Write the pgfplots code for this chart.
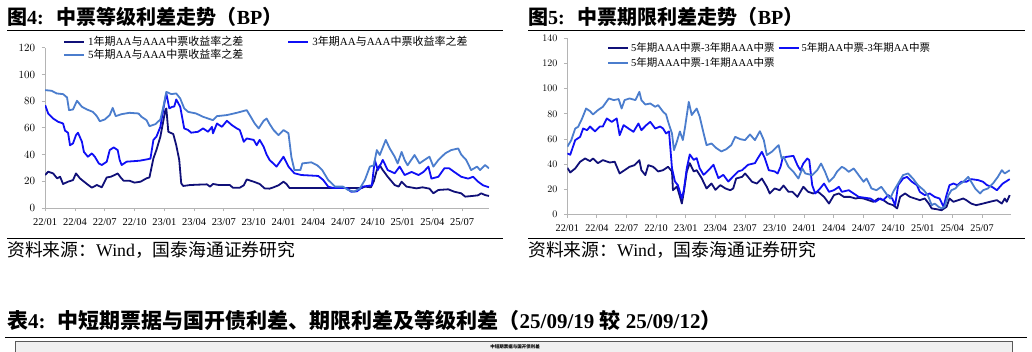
\documentclass[border=0pt]{standalone}
\usepackage{fontspec}
\setmainfont{Liberation Serif}
\newfontfamily\cjk{Noto Sans CJK SC}
\usepackage{pgfplots}
\pgfplotsset{compat=1.18}
\definecolor{navyline}{RGB}{16,16,120}
\definecolor{blueline}{RGB}{15,15,245}
\definecolor{lightline}{RGB}{75,125,205}
\definecolor{axisgray}{RGB}{180,180,180}
\pgfplotsset{
  spread/.style={
    scale only axis, anchor=south west,
    axis x line*=bottom, axis y line*=left,
    axis line style={draw=axisgray, line width=0.9pt},
    tick style={draw=axisgray, line width=0.9pt},
    tick align=outside, major tick length=3.5pt,
    xmin=0, ymin=0,
    xtick={0,3,...,42},
    xticklabels={22/01,22/04,22/07,22/10,23/01,23/04,23/07,23/10,24/01,24/04,24/07,24/10,25/01,25/04,25/07},
    xticklabel style={yshift=-3pt},
    yticklabel style={xshift=-3pt},
    legend columns=2,
    legend cell align=left,
    legend image code/.code={\draw[##1, line width=2pt] (0pt,0pt) -- (20pt,0pt);},
    every axis plot/.append style={line width=1.8pt, line join=round, mark=none},
  }
}
\begin{document}
\begin{tikzpicture}[x=1pt,y=1pt]
\path[use as bounding box] (0,0) rectangle (1032,352);
% titles
\node[anchor=base west, inner sep=0pt, font=\fontsize{20}{20}\selectfont\bfseries] at (7,327.4) {{\cjk 图}4:\hspace{13pt}{\cjk 中票等级利差走势（}BP{\cjk ）}};
\node[anchor=base west, inner sep=0pt, font=\fontsize{20}{20}\selectfont\bfseries] at (528,327.4) {{\cjk 图}5:\hspace{13pt}{\cjk 中票期限利差走势（}BP{\cjk ）}};
\draw[line width=1pt] (7,321.7) -- (503,321.7);
\draw[line width=1pt] (528,321.7) -- (1025,321.7);
\draw[line width=1pt] (7,113.7) -- (503,113.7);
\draw[line width=1pt] (528,113.7) -- (1025,113.7);
\node[anchor=base west, inner sep=0pt, font=\fontsize{17.8}{17.8}\selectfont] at (7,95) {{\cjk 资料来源：}Wind{\cjk ，国泰海通证券研究}};
\node[anchor=base west, inner sep=0pt, font=\fontsize{17.8}{17.8}\selectfont] at (528,95) {{\cjk 资料来源：}Wind{\cjk ，国泰海通证券研究}};
\node[anchor=base west, inner sep=0pt, font=\fontsize{21}{21}\selectfont\bfseries] at (7,23.5) {{\cjk 表}4:\hspace{12pt}{\cjk 中短期票据与国开债利差、期限利差及等级利差（}25/09/19 {\cjk 较} 25/09/12{\cjk ）}};
\draw[line width=1.5pt] (5,14.5) -- (1027,14.5);
\draw[fill=black!6, draw=black!65, line width=0.8pt] (15,-5) rectangle (1012,10.5);
\node[font=\cjk\fontsize{4.5}{4.5}\selectfont\bfseries, inner sep=0pt] at (515,5) {中短期票据与国开债利差};

% left chart
\begin{axis}[spread, at={(45.2pt,144pt)}, width=443.8pt, height=160.2pt,
  xmax=44.7, ymax=120, ytick={0,20,...,120},
  tick label style={font=\fontsize{10.5}{12}\selectfont},
  legend style={at={(0.0401,1.074)}, anchor=north west, draw=none, fill=none, inner sep=0pt,
    font=\fontsize{11}{13}\selectfont, row sep=1pt,
    /tikz/every even column/.append style={column sep=41pt},
    nodes={inner xsep=3pt, inner ysep=0.5pt}},
]
\addplot[navyline] coordinates {(0,24.7) (0.3,27.2) (0.8,25.9) (1.2,22.2) (1.5,23.4) (1.8,18) (2.3,19.7) (2.8,20.9) (3.1,25.9) (3.5,22.2) (4.2,18) (4.7,15.2) (5.2,17.2) (5.7,15.5) (6.2,22.9) (6.6,23.4) (7.0,24.7) (7.3,25.9) (7.6,22.9) (7.9,20.4) (8.5,20.4) (9.0,19) (9.6,19.7) (10.2,22.2) (10.5,22.9) (10.9,37.2) (11.2,43.4) (11.6,53.4) (12.1,73.3) (12.2,74.6) (12.4,57.1) (12.9,55.4) (13.2,47) (13.5,36) (13.7,18.5) (13.9,16.5) (14.6,17.2) (15.5,17.5) (16.3,17.7) (16.6,16) (16.9,18) (17.5,17.2) (18.6,17.2) (18.9,15.2) (19.6,15.2) (20.0,17) (20.3,21.4) (21.0,19.7) (21.6,18) (22.1,14.7) (22.6,14.5) (23.0,15.5) (23.5,17) (24.0,19.7) (24.3,18) (24.6,15) (31.9,15) (32.2,16) (32.8,15.5) (33.1,20) (33.4,28.4) (33.7,32) (34.0,28.4) (34.5,23.4) (35.2,17.2) (35.6,16) (35.9,19.7) (36.4,16) (37.4,14.7) (38.0,15.5) (38.7,14.5) (39.1,11) (39.6,13.5) (40.6,14) (41.2,12.2) (41.9,11) (42.3,8.5) (43.0,9) (43.6,9.5) (43.9,11) (44.3,9.7) (44.7,9)};
\addlegendentry{1{\cjk 年期}AA{\cjk 与}AAA{\cjk 中票收益率之差}}
\addplot[blueline] coordinates {(0,77) (0.3,70.8) (0.8,67) (1.3,64.6) (1.8,63.3) (2.0,57.9) (2.3,56.4) (2.5,47) (2.8,48.4) (3.1,54.6) (3.3,56.4) (3.7,49.6) (3.9,42) (4.3,38.4) (4.7,40.9) (5.0,38.4) (5.4,33.4) (5.7,32.2) (6.2,34.7) (6.5,43.4) (6.9,45.4) (7.3,43.4) (7.5,36) (7.7,32.2) (8.2,34.7) (9.5,35.4) (10.3,36.5) (10.6,37) (10.9,51) (11.2,53.4) (11.6,60.8) (12.0,78.3) (12.2,85.8) (12.5,74.6) (12.8,75.8) (13.0,76) (13.2,81.3) (13.6,75.8) (14.0,59.6) (14.4,58.4) (14.7,56.4) (15.4,57.1) (15.9,59.6) (16.4,57.1) (16.8,60.8) (16.9,55.9) (17.3,63.3) (17.8,60.8) (18.3,65.3) (18.8,62.1) (19.3,59.6) (19.6,58.4) (20.0,49.6) (20.3,52.1) (21.0,51) (21.3,47) (21.6,51) (22.0,45.9) (22.3,40) (22.6,36) (23.3,31) (24.0,38.4) (24.5,31) (25.1,26) (25.8,24.7) (27.5,24) (28.0,21) (28.5,16) (29.0,15) (30.4,15) (30.8,12.2) (31.4,12.5) (32.0,16) (32.9,17) (33.2,36) (33.5,28.4) (34.0,36) (34.5,28.4) (35.2,26) (35.7,31) (36.2,24.7) (36.9,27) (37.6,24.7) (38.1,27) (38.6,31) (38.9,22) (39.6,23.4) (40.2,29.7) (40.7,29.7) (41.2,27) (41.9,23.4) (42.6,22) (43.1,23.4) (43.6,19.7) (44.1,17) (44.7,15.5)};
\addlegendentry{3{\cjk 年期}AA{\cjk 与}AAA{\cjk 中票收益率之差}}
\addplot[lightline] coordinates {(0,88.3) (0.65,87.8) (1.15,85.8) (1.8,85.3) (2.2,82.8) (2.4,73.3) (2.8,73.8) (3.2,80.3) (3.7,75.8) (4.2,73.8) (4.8,72) (5.2,68.8) (5.5,65) (6.0,66.3) (6.5,69.6) (6.8,75) (7.1,68.8) (7.7,70.3) (8.5,71.3) (9.4,70.8) (9.7,68.3) (10.2,65.8) (10.5,61.3) (11.1,62.8) (11.6,66.3) (11.9,75.8) (12.2,87) (12.7,85.3) (13.2,85.8) (13.6,82) (14.0,74.6) (14.4,72) (15.2,70.8) (15.9,68.3) (16.9,65.8) (17.3,68.8) (18.3,69.6) (19.3,71.3) (20.3,73.3) (20.6,69.6) (21.1,63.3) (21.5,59.6) (22.0,65.3) (22.3,67) (22.6,63) (23.0,58.4) (23.5,54.6) (24.0,58.4) (24.5,56) (24.8,38) (25.1,28.4) (25.7,28.4) (25.9,33.4) (26.8,34.2) (27.4,32) (27.9,28.4) (28.5,21) (29.2,16) (30.0,16) (30.5,13.5) (31.1,12.2) (31.7,14.7) (32.2,21) (32.7,31) (33.1,32) (33.4,43.4) (33.7,39.7) (34.3,51) (34.7,44.6) (35.2,38.4) (35.5,33.4) (35.9,42) (36.2,36) (36.5,32) (37.2,39.7) (37.7,33.4) (38.2,36) (38.7,38.4) (39.1,31) (39.6,36) (40.3,41) (40.9,43.4) (41.6,44.6) (41.9,40) (42.4,36) (42.9,28.4) (43.5,31) (43.8,28.4) (44.3,32.2) (44.7,29.7)};
\addlegendentry{5{\cjk 年期}AA{\cjk 与}AAA{\cjk 中票收益率之差}}
\end{axis}

% right chart
\begin{axis}[spread, at={(567.3pt,137.5pt)}, width=443.4pt, height=176.2pt,
  xmax=44.9, ymax=140, ytick={0,20,...,140},
  tick label style={font=\fontsize{10.2}{12}\selectfont},
  legend style={at={(0.0895,0.979)}, anchor=north west, draw=none, fill=none, inner sep=0pt,
    font=\fontsize{10.5}{12.5}\selectfont, row sep=4pt,
    /tikz/every even column/.append style={column sep=1pt},
    nodes={inner xsep=2pt, inner ysep=0.5pt}},
]
\addplot[navyline] coordinates {(0,37.1) (0.3,33.4) (0.8,36.6) (1.3,41.9) (1.8,44.5) (2.3,42.4) (2.6,44.5) (3.1,40.8) (3.6,43.2) (4.3,41.3) (4.8,41.9) (5.3,32.6) (5.8,35.2) (6.3,37.9) (6.8,39.2) (7.3,43.2) (7.5,35.2) (7.9,31.3) (8.2,39.2) (8.7,37.9) (9.2,34.2) (9.7,35.2) (10.2,37.9) (10.6,34.2) (10.7,19.3) (11.1,22.3) (11.4,14.3) (11.6,8.7) (11.8,18) (12.1,34.2) (12.4,40.8) (12.8,34.2) (13.1,35.2) (13.6,28.9) (14.1,20.7) (14.6,24.6) (15.0,19.6) (15.5,23.3) (16.0,20.7) (16.5,19.3) (16.8,20.7) (17.1,28.6) (17.7,29.9) (18.0,32.6) (18.3,29.9) (18.7,26) (19.2,24.6) (19.7,28.6) (20.2,22) (20.5,16.7) (21.0,20.7) (21.5,19.3) (21.9,23) (22.4,18) (22.8,18) (23.3,14) (23.6,18) (23.9,22) (24.4,18) (24.9,16.7) (25.4,18) (26.0,14) (26.5,8.7) (27.0,15.4) (27.5,16.7) (28.0,14) (28.6,14) (29.2,12.7) (29.5,13.2) (30.0,12.7) (30.5,11.4) (31.0,10.1) (31.5,12.7) (32.0,11.4) (32.5,8.7) (33.0,7.4) (33.4,4.8) (33.7,14) (34.2,16.7) (34.7,14) (35.2,12.7) (35.7,11.4) (36.2,12.7) (36.6,8.7) (36.9,4.8) (37.4,4.2) (37.9,3.4) (38.4,6.1) (38.7,12.7) (39.1,10.1) (39.6,11.4) (40.1,12.7) (40.4,11.4) (40.9,8.7) (41.4,7.4) (42.1,8.7) (42.8,10.1) (43.5,11.4) (44.0,8.7) (44.3,12.7) (44.5,10.1) (44.8,15.4)};
\addlegendentry{5{\cjk 年期}AAA{\cjk 中票}-3{\cjk 年期}AAA{\cjk 中票}}
\addplot[blueline] coordinates {(0,48.5) (0.3,47.5) (0.8,59.1) (1.3,61.7) (1.6,68.3) (2.0,67) (2.3,69.9) (2.8,66) (3.3,69.9) (3.6,69.9) (4.0,76.3) (4.5,73.6) (5.0,76.3) (5.3,63) (5.7,71) (6.2,68.3) (6.7,65.7) (7.2,72.3) (7.5,67) (8.0,71) (8.4,73.6) (8.9,68.3) (9.4,69.9) (9.7,68.3) (10.0,64.4) (10.3,66) (10.6,36.8) (10.9,26.2) (11.2,23.3) (11.6,12.7) (11.8,19.3) (12.1,36.8) (12.4,47.7) (12.8,43.4) (13.1,44.8) (13.4,36.8) (13.8,31.5) (14.3,35.2) (14.8,39.5) (15.3,28.9) (15.8,31.5) (16.3,26.2) (16.8,30.2) (17.3,34.2) (17.7,35.2) (18.3,39.5) (19.0,40.8) (19.3,44.8) (19.7,49.8) (20.0,44.8) (20.4,35.2) (21.0,34.2) (21.3,32.6) (21.6,38.1) (21.8,44.8) (22.2,45.8) (22.9,46.6) (23.3,39.2) (23.6,35.2) (23.9,40.5) (24.3,44.5) (24.5,43.2) (24.8,23.3) (25.1,16.7) (25.6,20.7) (26.0,24.6) (26.5,18) (27.0,19.3) (27.5,22) (27.8,18) (28.5,19.3) (29.0,16.7) (29.5,14) (30.2,13.2) (30.7,12.7) (31.2,10.1) (31.7,12.7) (32.0,11.4) (32.5,15.4) (32.9,12.7) (33.2,7.4) (33.5,23.3) (34.0,28.6) (34.4,29.9) (34.9,26) (35.4,23.3) (35.7,18) (36.2,15.4) (36.7,16.7) (37.2,14) (37.7,12.7) (38.1,6.1) (38.4,15.4) (38.7,23.3) (39.1,24.6) (39.5,23.3) (39.9,26) (40.4,26) (40.9,28.1) (41.6,27.3) (42.1,26) (42.5,23.3) (43.0,22) (43.5,19.3) (43.8,22) (44.1,24.6) (44.8,28.1)};
\addlegendentry{5{\cjk 年期}AA{\cjk 中票}-3{\cjk 年期}AA{\cjk 中票}}
\addplot[lightline] coordinates {(0,53.8) (0.4,59) (0.8,68.3) (1.1,69.7) (1.5,76.3) (1.9,84.2) (2.3,82.1) (2.6,79.5) (3.1,82.9) (3.6,85.6) (4.2,92.2) (4.7,90.9) (5.2,91.7) (5.5,84.2) (5.8,90.9) (6.3,92.2) (6.9,90.9) (7.3,97.5) (7.5,90.9) (7.9,87.4) (8.4,88.2) (8.9,85.6) (9.2,86.9) (9.7,81.6) (10.0,79.5) (10.2,73.9) (10.6,64.4) (10.8,51.1) (11.1,58) (11.4,66) (11.7,59.1) (11.9,68.3) (12.3,89.5) (12.6,79) (13.1,84.2) (13.4,77.9) (13.8,64.6) (14.1,55.1) (14.6,56.4) (15.1,52.7) (15.6,50.1) (16.1,51.9) (16.6,55.1) (17.0,61.7) (17.5,59.9) (18.0,59.1) (18.5,63.6) (19.0,59.1) (19.5,66.2) (19.9,59.1) (20.2,47.2) (20.7,49.8) (21.4,55.1) (21.7,44.5) (21.9,45.8) (22.4,37.9) (22.9,33.9) (23.4,28.6) (23.8,36.6) (24.1,32.6) (24.8,31.3) (25.3,35.2) (25.7,40.5) (26.1,33.9) (26.5,26) (27.0,29.9) (27.3,33.9) (27.8,37.9) (28.1,36.6) (28.5,33.9) (29.0,36.6) (29.5,31.3) (30.0,26) (30.3,28.6) (30.8,20.7) (31.3,19.3) (31.8,22) (32.4,15.4) (32.7,12.7) (33.0,18) (33.5,24.6) (34.0,31.3) (34.5,32.6) (35.0,28.6) (35.5,23.3) (36.1,19.3) (36.5,15.4) (36.9,7.4) (37.2,8.7) (37.6,6.1) (37.9,4.8) (38.2,6.1) (38.6,15.4) (38.9,19.3) (39.3,20.7) (39.6,23.3) (40.1,26) (40.6,29.9) (40.9,26) (41.3,20.7) (41.8,16.7) (42.1,19.3) (42.6,20.7) (43.1,24.6) (43.6,29.9) (44.0,35.2) (44.3,32.6) (44.8,35.2)};
\addlegendentry{5{\cjk 年期}AAA{\cjk 中票}-1{\cjk 年期}AAA{\cjk 中票}}
\end{axis}
\end{tikzpicture}
\end{document}
